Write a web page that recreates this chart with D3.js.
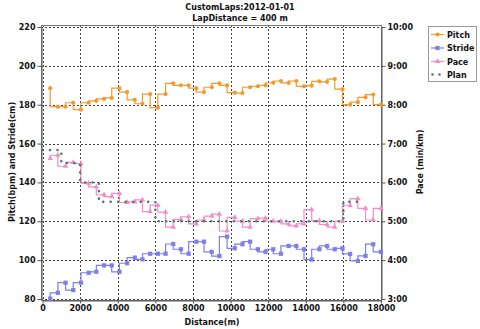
<!DOCTYPE html>
<html><head><meta charset="utf-8">
<script src="https://cdn.jsdelivr.net/npm/d3@7"></script>
<style>
body{margin:0;background:#fff}
svg{display:block}
text{font-family:"DejaVu Sans",Verdana,sans-serif;font-weight:bold;font-size:8px;fill:#111}
</style>
</head><body>
<svg id="c" width="480" height="329"></svg>
<script>
// ---- data ----
const titleLines = ["CustomLaps:2012-01-01", "LapDistance = 400 m"];
const lapDistance = [409, 818, 1227, 1636, 2045, 2454, 2863, 3272, 3681, 4090, 4499, 4908, 5317, 5726, 6135,
  6544, 6953, 7362, 7771, 8180, 8589, 8998, 9407, 9816, 10225, 10634, 11043, 11452, 11861, 12270,
  12679, 13088, 13497, 13906, 14315, 14724, 15133, 15542, 15951, 16360, 16769, 17178, 17587, 17996];
const pitch = [188.5, 179, 179, 181, 177.5, 181, 182, 183, 183.5, 188.5, 186.5, 182.5, 180.5, 185.5, 178.5,
  185.5, 191, 190, 190, 188.5, 186.5, 189, 191, 190, 186.2, 186, 189, 189.5, 190, 191.3,
  192.2, 191.2, 192.2, 189.4, 189.8, 192, 191.8, 193.2, 188, 180, 181.3, 183.8, 185.2, 180];
const stride = [80.2, 83.2, 88.4, 84.6, 88.4, 93.5, 94, 97.3, 97.3, 94, 98.4, 101.3, 100.4, 103.3, 103.3,
  103.3, 108.3, 105.6, 103.3, 109.5, 109.5, 104.3, 102.1, 112.1, 106.1, 108.2, 109.5, 105.6, 104.3, 105.6,
  103.3, 107.3, 107.3, 105.6, 100.3, 105.6, 107.3, 105.6, 106.1, 103.2, 99.6, 102.2, 108.2, 104.3];
// pace in seconds per km
const paceSec = [397, 402, 385, 391, 389, 359, 353, 341, 338, 343, 329, 330, 333, 315, 325,
  314, 291, 303, 307, 296, 302, 308, 311, 285, 306, 300, 291, 304, 305, 300,
  300, 296, 293, 296, 318, 301, 295, 291, 300, 324, 335, 320, 302, 320];
const planDistance = [0, 1000, 2000, 3000, 4000, 5000, 6000, 7000, 8000, 9000, 10000, 11000, 12000, 13000, 14000, 15000, 16000, 17000];
const planSec = [410, 410, 390, 360, 330, 330, 330, 300, 300, 300, 300, 300, 300, 300, 300, 300, 300, 330];
const leftTicks = [80, 100, 120, 140, 160, 180, 200, 220];
const rightTicks = [3, 4, 5, 6, 7, 8, 9, 10];
const xTicks = [0, 2000, 4000, 6000, 8000, 10000, 12000, 14000, 16000, 18000];
const seriesNames = ["Pitch", "Stride", "Pace", "Plan"];
const colors = {Pitch: "#f39a2e", Stride: "#7f7fe8", Pace: "#f28ccb", Plan: "#4f7d5e"};

// ---- layout ----
const svg = d3.select("#c");
const x = d3.scaleLinear().domain([0, 18000]).range([42.5, 381]);
const yL = d3.scaleLinear().domain([80, 220]).range([299, 27]);
const yR = d3.scaleLinear().domain([3, 10]).range([299, 27]);

// title
svg.selectAll("text.title").data(titleLines).join("text")
  .attr("class", "title").attr("x", 240).attr("y", (d, i) => 10 + i * 10.5)
  .attr("text-anchor", "middle").text(d => d);

// grid
const grid = svg.append("g").attr("stroke", "#444").attr("stroke-dasharray", "2,2").attr("stroke-width", 1);
grid.selectAll("line.h").data(leftTicks).join("line")
  .attr("x1", 41).attr("x2", 382).attr("y1", d => Math.round(yL(d)) + 0.5).attr("y2", d => Math.round(yL(d)) + 0.5);
grid.selectAll("line.v").data(xTicks).join("line")
  .attr("y1", 25).attr("y2", 301).attr("x1", d => Math.round(x(d)) + 0.5).attr("x2", d => Math.round(x(d)) + 0.5);

// frame
svg.append("rect").attr("x", 41.5).attr("y", 25.5).attr("width", 340).attr("height", 275)
  .attr("fill", "none").attr("stroke", "#777");

// axes
const axL = svg.append("g").attr("transform", "translate(41.5,0)")
  .call(d3.axisLeft(yL).tickValues(leftTicks).tickSize(4).tickPadding(2).tickSizeOuter(0));
const axR = svg.append("g").attr("transform", "translate(381.5,0)")
  .call(d3.axisRight(yR).tickValues(rightTicks).tickSize(4).tickPadding(2).tickSizeOuter(0)
    .tickFormat(d => d + ":00"));
const axB = svg.append("g").attr("transform", "translate(0,300.5)")
  .call(d3.axisBottom(x).tickValues(xTicks).tickSize(3).tickPadding(2).tickSizeOuter(0).tickFormat(d3.format("d")));
[axL, axR, axB].forEach(a => {
  a.select(".domain").attr("stroke", "#555");
  a.selectAll(".tick line").attr("stroke", "#555");
  a.selectAll("text").attr("font-family", null).attr("font-size", null).attr("fill", "#111");
});

// axis titles
svg.append("text").attr("transform", "translate(15,162) rotate(-90)").attr("text-anchor", "middle")
  .text("Pitch(bpm) and Stride(cm)");
svg.append("text").attr("transform", "translate(423,162) rotate(-90)").attr("text-anchor", "middle")
  .text("Pace (min/km)");
svg.append("text").attr("x", 212).attr("y", 325).attr("text-anchor", "middle").text("Distance(m)");

// series
const step = d3.curveStepBefore;
function drawLine(xs, ys, yScale, color, extra) {
  const line = d3.line().curve(step).x((d, i) => x(xs[i])).y(d => yScale(d));
  const p = svg.append("path").datum(ys).attr("d", line).attr("fill", "none")
    .attr("stroke", color).attr("stroke-width", 1.2);
  if (extra) extra(p);
  return p;
}
// Pitch
drawLine(lapDistance, pitch, yL, colors.Pitch);
svg.append("g").selectAll("circle").data(pitch).join("circle")
  .attr("cx", (d, i) => x(lapDistance[i])).attr("cy", d => yL(d)).attr("r", 2.1).attr("fill", colors.Pitch);
// Stride
drawLine(lapDistance, stride, yL, colors.Stride);
svg.append("g").selectAll("path").data(stride).join("path")
  .attr("transform", (d, i) => `translate(${x(lapDistance[i])},${yL(d)})`)
  .attr("d", d3.symbol(d3.symbolSquare, 18)()).attr("fill", colors.Stride);
// Pace
const paceMin = paceSec.map(s => s / 60);
drawLine(lapDistance, paceMin, yR, colors.Pace);
svg.append("g").selectAll("path").data(paceMin).join("path")
  .attr("transform", (d, i) => `translate(${x(lapDistance[i])},${yR(d)})`)
  .attr("d", d3.symbol(d3.symbolTriangle, 13)()).attr("fill", colors.Pace);
// Plan (dotted)
const planMin = planSec.map(s => s / 60);
drawLine(planDistance, planMin, yR, colors.Plan, p => p.attr("stroke-width", 2.6)
  .attr("stroke-dasharray", "0,7.5").attr("stroke-linecap", "round"));

// legend
const lg = svg.append("g");
lg.append("rect").attr("x", 428.5).attr("y", 26.5).attr("width", 48).attr("height", 55)
  .attr("fill", "#fff").attr("stroke", "#999");
const rowY = [34.5, 48, 61.5, 74.5];
seriesNames.forEach((name, i) => {
  const yy = rowY[i];
  const ln = lg.append("line").attr("x1", 431).attr("x2", 444).attr("y1", yy).attr("y2", yy)
    .attr("stroke", colors[name]).attr("stroke-width", 1.2);
  if (name === "Plan") ln.attr("stroke-width", 2.6).attr("stroke-dasharray", "0,7").attr("stroke-linecap", "round")
    .attr("x1", 432.5).attr("x2", 441);
  if (name === "Pitch") lg.append("circle").attr("cx", 437.5).attr("cy", yy).attr("r", 2.1).attr("fill", colors.Pitch);
  if (name === "Stride") lg.append("path").attr("transform", `translate(437.5,${yy})`).attr("d", d3.symbol(d3.symbolSquare, 18)()).attr("fill", colors.Stride);
  if (name === "Pace") lg.append("path").attr("transform", `translate(437.5,${yy})`).attr("d", d3.symbol(d3.symbolTriangle, 13)()).attr("fill", colors.Pace);
  lg.append("text").attr("x", 447).attr("y", yy + 3).text(name);
});
</script>
</body></html>
